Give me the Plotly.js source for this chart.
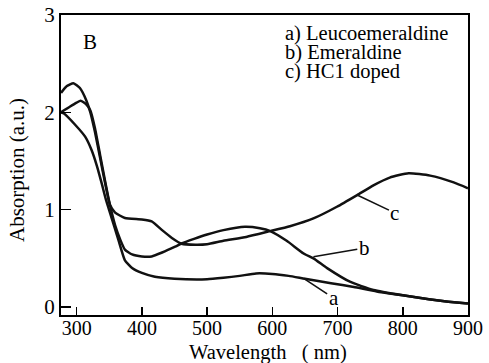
<!DOCTYPE html>
<html>
<head>
<meta charset="utf-8">
<script src="https://cdn.plot.ly/plotly-3.0.1.min.js"></script>
<style>html,body{margin:0;padding:0;background:#fff;}#chart{width:489px;height:363px;}</style>
</head>
<body>
<div id="chart"></div>
<script>
// Curve a) Leucoemeraldine
var wlA  = [276, 280, 298, 313, 323, 331, 338, 345, 352, 358, 364, 374, 385, 400, 420, 450, 500, 525, 550, 575, 600, 625, 650, 690, 725, 760, 800, 840, 870, 900];
var absA = [2.00, 1.99, 1.87, 1.75, 1.61, 1.45, 1.28, 1.10, 0.95, 0.82, 0.69, 0.48, 0.40, 0.35, 0.31, 0.29, 0.285, 0.30, 0.32, 0.345, 0.34, 0.32, 0.29, 0.245, 0.205, 0.16, 0.12, 0.08, 0.055, 0.035];
// Curve b) Emeraldine
var wlB  = [276, 290, 300, 306, 315, 321, 328, 336, 344, 351, 359, 367, 374, 385, 400, 415, 431, 451, 460, 480, 500, 525, 558, 581, 597, 622, 648, 663, 684, 719, 755, 800, 840, 870, 900];
var absB = [2.00, 2.06, 2.10, 2.12, 2.08, 2.02, 1.84, 1.56, 1.28, 1.05, 0.84, 0.69, 0.59, 0.54, 0.52, 0.52, 0.56, 0.62, 0.65, 0.70, 0.745, 0.79, 0.825, 0.81, 0.78, 0.68, 0.55, 0.50, 0.40, 0.26, 0.175, 0.12, 0.08, 0.055, 0.035];
// Curve c) HCl doped
var wlC  = [276, 285, 295, 305, 315, 321, 328, 336, 344, 351, 359, 374, 400, 415, 431, 446, 461, 482, 500, 525, 560, 597, 627, 663, 699, 730, 755, 780, 809, 842, 878, 900];
var absC = [2.20, 2.27, 2.30, 2.25, 2.12, 2.00, 1.80, 1.53, 1.26, 1.05, 0.97, 0.915, 0.90, 0.88, 0.79, 0.71, 0.65, 0.64, 0.645, 0.68, 0.72, 0.78, 0.83, 0.91, 1.03, 1.15, 1.25, 1.33, 1.375, 1.35, 1.28, 1.22];

var xTicks = [300, 400, 500, 600, 700, 800, 900];
var yTicks = [0, 1, 2, 3];
var legendLines = ["a) Leucoemeraldine", "b) Emeraldine", "c) HC1 doped"];
var panelLabel = "B";
var curveLabels = ["a", "b", "c"];
var xTitle = "Wavelength\u00a0\u00a0\u00a0(\u00a0nm)";
var yTitle = "Absorption (a.u.)";
// label anchor points on curves [wavelength, absorption] and text positions
var labelPoint = [[648, 0.295], [663, 0.517], [730, 1.15]];
var labelText  = [[694, 0.09], [741, 0.606], [788, 0.966]];

var FONT = "Liberation Serif";
var lineStyle = {color: "#111", width: 2.5, shape: "spline", smoothing: 0.5};

var traces = [
  {x: wlA, y: absA, mode: "lines", line: lineStyle, name: "a", hoverinfo: "skip"},
  {x: wlB, y: absB, mode: "lines", line: lineStyle, name: "b", hoverinfo: "skip"},
  {x: wlC, y: absC, mode: "lines", line: lineStyle, name: "c", hoverinfo: "skip"}
];

var annotations = [];
annotations.push({x: 320, y: 2.72, xref: "x", yref: "y", text: panelLabel, showarrow: false,
  font: {family: FONT, size: 21, color: "#000"}, xanchor: "center", yanchor: "middle"});
var legY = [33, 52.5, 72];
for (var i = 0; i < legendLines.length; i++) {
  annotations.push({xref: "paper", yref: "paper", x: (284 - 61) / 406.7, y: (315 - legY[i]) / 300,
    text: legendLines[i], showarrow: false, xanchor: "left", yanchor: "middle", borderpad: 0,
    font: {family: FONT, size: 20.5, color: "#000"}});
}
for (var j = 0; j < curveLabels.length; j++) {
  annotations.push({x: labelPoint[j][0], y: labelPoint[j][1], xref: "x", yref: "y",
    ax: labelText[j][0], ay: labelText[j][1], axref: "x", ayref: "y",
    text: curveLabels[j], showarrow: true, arrowhead: 0, arrowwidth: 1.6, arrowcolor: "#111",
    standoff: 0, startstandoff: 0,
    font: {family: FONT, size: 21, color: "#000"}});
}
// axis titles placed precisely
annotations.push({xref: "paper", yref: "paper", x: (268 - 61) / 406.7, y: (315 - 352) / 300,
  text: xTitle, showarrow: false, xanchor: "center", yanchor: "middle", borderpad: 0,
  font: {family: FONT, size: 20.5, color: "#000"}});
annotations.push({xref: "paper", yref: "paper", x: (17 - 61) / 406.7, y: (315 - 170) / 300,
  text: yTitle, showarrow: false, xanchor: "center", yanchor: "middle", textangle: -90,
  font: {family: FONT, size: 21, color: "#000"}});

var layout = {
  width: 489, height: 363,
  margin: {l: 61, r: 21, t: 15, b: 48},
  paper_bgcolor: "#fff", plot_bgcolor: "#fff",
  showlegend: false,
  font: {family: FONT, size: 20, color: "#000"},
  xaxis: {
    range: [276, 900], tickvals: xTicks, ticktext: xTicks.map(String),
    ticks: "inside", ticklen: 8, tickwidth: 1.5, tickcolor: "#000",
    showline: true, linecolor: "#000", linewidth: 2, mirror: true,
    showgrid: false, zeroline: false, ticklabelstandoff: -6,
    tickfont: {family: FONT, size: 20, color: "#000"}
  },
  yaxis: {
    range: [-0.082, 3.0], tickvals: yTicks, ticktext: yTicks.map(String),
    ticks: "inside", ticklen: 10, tickwidth: 1.5, tickcolor: "#000",
    showline: true, linecolor: "#000", linewidth: 2, mirror: true,
    showgrid: false, zeroline: false,
    tickfont: {family: FONT, size: 21, color: "#000"}
  },
  annotations: annotations
};

Plotly.newPlot("chart", traces, layout, {displayModeBar: false, staticPlot: true});
</script>
</body>
</html>
